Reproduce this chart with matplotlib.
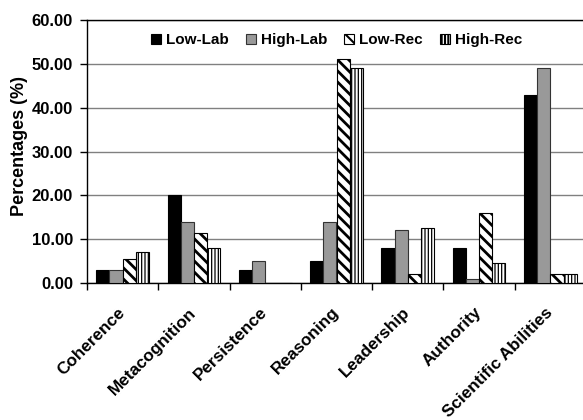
import matplotlib
matplotlib.use("Agg")
import matplotlib.pyplot as plt
import numpy as np

categories = ["Coherence", "Metacognition", "Persistence", "Reasoning",
              "Leadership", "Authority", "Scientific Abilities"]
low_lab = [3.0, 20.0, 3.0, 5.0, 8.0, 8.0, 43.0]
high_lab = [3.0, 14.0, 5.0, 14.0, 12.0, 1.0, 49.0]
low_rec = [5.5, 11.5, 0.0, 51.0, 2.0, 16.0, 2.0]
high_rec = [7.0, 8.0, 0.0, 49.0, 12.5, 4.5, 2.0]
series_names = ["Low-Lab", "High-Lab", "Low-Rec", "High-Rec"]
y_ticks = [0, 10, 20, 30, 40, 50, 60]

plt.rcParams['font.family'] = ['Liberation Sans', 'DejaVu Sans']
plt.rcParams['font.weight'] = 'bold'
plt.rcParams['hatch.linewidth'] = 1.5

fig = plt.figure(figsize=(5.83, 4.2), dpi=100)
ax = fig.add_axes([87/583, 137/420, 499/583, 263/420])

x = np.arange(len(categories))
w = 0.185
styles = [
    dict(color='black', edgecolor='black', hatch=None, hlw=None),
    dict(color='#999999', edgecolor='#333333', hatch=None, hlw=None),
    dict(color='white', edgecolor='black', hatch='\\\\\\', hlw=2.0),
    dict(color='white', edgecolor='black', hatch='|||||', hlw=0.9),
]
data = [low_lab, high_lab, low_rec, high_rec]
handles = []
for k, (vals, st, name) in enumerate(zip(data, styles, series_names)):
    bars = ax.bar(x + (k - 1.5) * w, vals, width=w, color=st['color'],
                  edgecolor=st['edgecolor'], hatch=st['hatch'], linewidth=0.8,
                  label=name, zorder=3)
    if st['hlw'] is not None:
        for b in bars:
            if hasattr(b, 'set_hatch_linewidth'):
                b.set_hatch_linewidth(st['hlw'])
    handles.append(bars)

ax.set_xlim(-0.5, len(categories) - 0.5)
ax.set_ylim(0, 60)
ax.set_yticks(y_ticks)
ax.set_yticklabels([f"{v:.2f}" for v in y_ticks], fontsize=12, fontweight='bold')
ax.yaxis.grid(True, color='#808080', linewidth=1.0, zorder=0)
ax.set_axisbelow(True)

ax.set_xticks(np.arange(len(categories) + 1) - 0.5)
ax.set_xticklabels([])
ax.set_xticks(x, minor=True)
ax.set_xticklabels(categories, minor=True, rotation=45, ha='right',
                   va='center', rotation_mode='anchor', fontsize=12.3,
                   fontweight='bold')
ax.tick_params(axis='x', which='minor', length=0, pad=19.5)
ax.tick_params(axis='x', which='major', length=5, direction='out', width=1)
ax.tick_params(axis='y', length=5, direction='out', width=1, pad=5)

for s in ['left', 'bottom', 'top']:
    ax.spines[s].set_color('black')
    ax.spines[s].set_linewidth(1.0)
ax.spines['right'].set_visible(False)

fig.text(20/583, 1 - 146/420, "Percentages (%)", rotation=90, ha='center',
         va='center', fontsize=13, fontweight='bold')

leg = ax.legend(handles=handles, loc='center', bbox_to_anchor=(0.5, 0.924),
                ncol=4, frameon=False, handlelength=0.65,
                handleheight=0.65, handletextpad=0.35, columnspacing=1.1,
                borderpad=0, prop={'weight': 'bold', 'size': 11})

fig.savefig("out.png", dpi=100)
